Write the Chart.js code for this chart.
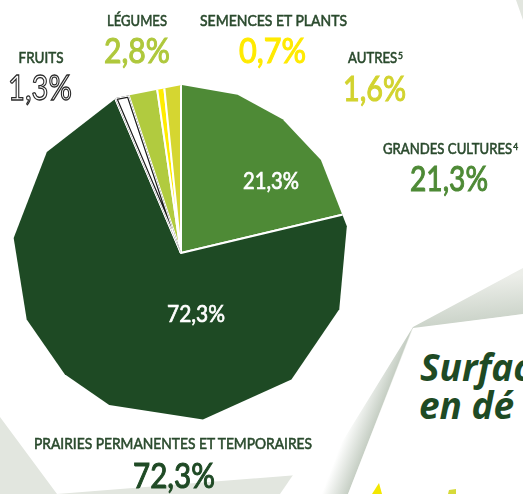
<!DOCTYPE html>
<html><head><meta charset="utf-8">
<script src="https://cdn.jsdelivr.net/npm/chart.js@4/dist/chart.umd.min.js"></script>
<style>
html,body{margin:0;padding:0;width:523px;height:494px;overflow:hidden;background:#fff;}
#bg,#fg,#c{position:absolute;left:0;top:0;}
#fg{pointer-events:none;}
</style></head><body>
<svg id="bg" width="523" height="494" xmlns="http://www.w3.org/2000/svg">
  <defs>
    <linearGradient id="gSh" gradientUnits="userSpaceOnUse" x1="357" y1="402" x2="380.5" y2="411">
      <stop offset="0" stop-color="#ffffff"/><stop offset="1" stop-color="#c4cdc2"/>
    </linearGradient>
    <linearGradient id="gTop" gradientUnits="userSpaceOnUse" x1="470" y1="280" x2="474" y2="321">
      <stop offset="0" stop-color="#eceee9"/><stop offset="1" stop-color="#ccd4ca"/>
    </linearGradient>
  </defs>
  <rect x="0" y="0" width="523" height="494" fill="#e2e6df"/>
  <polygon points="523,262 405,330 523,314" fill="url(#gTop)"/>
  <polygon points="413,326 348,494 280,494 395,326" fill="url(#gSh)"/>
  <polygon points="0,0 516,0 523,20 523,268 413,327 323,473 57,494 0,417" fill="#ffffff"/>
  <polygon points="413,328 523,314 523,494 348,494" fill="#ffffff"/>
  <polygon points="372,494 379,483 382,494" fill="#f3e700"/>
  <polygon points="448,494 449,490 456,489 456,494" fill="#d6da3a"/>
  <text x="420" y="381" font-family="'Open Sans',sans-serif" font-weight="700" font-style="italic" font-size="37" fill="#1e4a24">Surfac</text>
  <text x="419" y="419" font-family="'Open Sans',sans-serif" font-weight="700" font-style="italic" font-size="37" fill="#1e4a24">en dé</text>
</svg>
<canvas id="c" width="523" height="494"></canvas>
<svg id="fg" width="523" height="494" xmlns="http://www.w3.org/2000/svg"></svg>
<script>
// ---- data ----
const categories = ['GRANDES CULTURES', 'PRAIRIES PERMANENTES ET TEMPORAIRES', 'FRUITS', 'LÉGUMES', 'SEMENCES ET PLANTS', 'AUTRES'];
const footnotes = ['4', '', '', '', '', '5'];
const shares = [21.3, 72.3, 1.3, 2.8, 0.7, 1.6];
const shareLabels = ['21,3%', '72,3%', '1,3%', '2,8%', '0,7%', '1,6%'];
const insideLabelIdx = [0, 1];

// ---- style ----
const sliceColors = ['#4e8a36', '#1e4a24', '#ffffff', '#b1cb3f', '#ffec00', '#d5d631'];
const valueColors = ['#4e8a36', '#1f4a25', '#ffffff', '#afc83c', '#ffea00', '#d2d32f'];
const nameColor = '#2a4a2d';
// label layout: centre x, baselines and widths of name / value text
const labelLayout = [
  {cx: 450.5, nb: 154, nw: 135, vcx: 449, vb: 191, vw: 78},
  {cx: 173, nb: 449, nw: 278, vcx: 174, vb: 488, vw: 82},
  {cx: 41, nb: 63, nw: 45, vcx: 40, vb: 100, vw: 64},
  {cx: 137, nb: 26, nw: 60, vcx: 137, vb: 63, vw: 66},
  {cx: 273.5, nb: 26, nw: 147, vcx: 272.5, vb: 63, vw: 67},
  {cx: 375.5, nb: 63, nw: 55, vcx: 374.5, vb: 101, vw: 63}
];
const insideLayout = [
  {cx: 271, b: 189, w: 56},
  {cx: 196, b: 322, w: 58}
];
// outline shape of the "pie" (angles in degrees, clockwise from top)
const OUTLINE_ANGLES = [0.3, 19.7, 37.2, 56.4, 80.8, 109.6, 138.9, 172.5, 205.3, 223.8, 246.7, 275.1, 307, 337.5];

function outlinePath(ctx, x, y, r) {
  ctx.beginPath();
  OUTLINE_ANGLES.forEach((a, i) => {
    const t = (a - 90) * Math.PI / 180;
    const px = x + r * Math.cos(t), py = y + r * Math.sin(t);
    if (i) ctx.lineTo(px, py); else ctx.moveTo(px, py);
  });
  ctx.closePath();
}

const polygonPie = {
  id: 'polygonPie',
  beforeDatasetsDraw(chart) {
    const arc = chart.getDatasetMeta(0).data[0];
    const ctx = chart.ctx;
    ctx.save();
    outlinePath(ctx, arc.x, arc.y, arc.outerRadius - 2);
    ctx.clip();
  },
  afterDatasetsDraw(chart) {
    const ctx = chart.ctx;
    const arc = chart.getDatasetMeta(0).data[2];
    const {x, y, startAngle, endAngle, outerRadius} = arc;
    const r = outerRadius - 2;
    ctx.save();
    ctx.beginPath();
    ctx.moveTo(x, y);
    ctx.arc(x, y, outerRadius + 20, startAngle, endAngle);
    ctx.closePath();
    ctx.clip();
    ctx.fillStyle = '#fff';
    ctx.fillRect(0, 0, chart.width, chart.height);
    const edges = () => {
      outlinePath(ctx, x, y, r);
      ctx.moveTo(x, y); ctx.lineTo(x + 400 * Math.cos(startAngle), y + 400 * Math.sin(startAngle));
      ctx.moveTo(x, y); ctx.lineTo(x + 400 * Math.cos(endAngle), y + 400 * Math.sin(endAngle));
    };
    edges(); ctx.strokeStyle = '#1a1a1a'; ctx.lineWidth = 4.4; ctx.stroke();
    edges(); ctx.strokeStyle = '#ffffff'; ctx.lineWidth = 2; ctx.stroke();
    ctx.restore();
    ctx.restore();
  }
};

new Chart(document.getElementById('c'), {
  type: 'pie',
  data: {
    labels: categories,
    datasets: [{
      data: shares,
      backgroundColor: sliceColors,
      borderColor: '#ffffff',
      borderWidth: 2
    }]
  },
  options: {
    responsive: false,
    animation: false,
    events: [],
    layout: {padding: {left: 10, right: 171, top: 82, bottom: 70}},
    plugins: {legend: {display: false}, tooltip: {enabled: false}}
  },
  plugins: [polygonPie]
});

// ---- text labels ----
const NS = 'http://www.w3.org/2000/svg';
const fg = document.getElementById('fg');
function addText(str, cx, base, w, size, weight, fill, extra, sup) {
  const t = document.createElementNS(NS, 'text');
  t.setAttribute('x', cx);
  t.setAttribute('y', base);
  t.setAttribute('text-anchor', 'middle');
  t.setAttribute('font-family', "Lato, 'Open Sans', sans-serif");
  t.setAttribute('font-size', size);
  t.setAttribute('font-weight', weight);
  t.setAttribute('fill', fill);
  t.setAttribute('textLength', w);
  t.setAttribute('lengthAdjust', 'spacingAndGlyphs');
  t.appendChild(document.createTextNode(str));
  if (sup) {
    const s = document.createElementNS(NS, 'tspan');
    s.setAttribute('font-size', size * 0.64);
    s.setAttribute('dy', -size * 0.25);
    s.setAttribute('dx', 1);
    s.textContent = sup;
    t.appendChild(s);
  }
  if (extra) for (const k in extra) t.setAttribute(k, extra[k]);
  fg.appendChild(t);
}
categories.forEach((name, i) => {
  const L = labelLayout[i];
  addText(name, L.cx, L.nb, L.nw, 14.5, 400, nameColor, {stroke: nameColor, 'stroke-width': 0.55}, footnotes[i]);
  if (i === 2) {
    addText(shareLabels[i], L.vcx, L.vb, L.vw, 35, 400, '#ffffff', {stroke: '#2a2a2a', 'stroke-width': 1.3});
  } else {
    addText(shareLabels[i], L.vcx, L.vb, L.vw, 35, 400, valueColors[i], {stroke: valueColors[i], 'stroke-width': 1.1});
  }
});
insideLabelIdx.forEach((idx, k) => {
  const L = insideLayout[k];
  addText(shareLabels[idx], L.cx, L.b, L.w, 24, 400, '#ffffff', {stroke: '#ffffff', 'stroke-width': 0.7});
});
</script>
</body></html>
